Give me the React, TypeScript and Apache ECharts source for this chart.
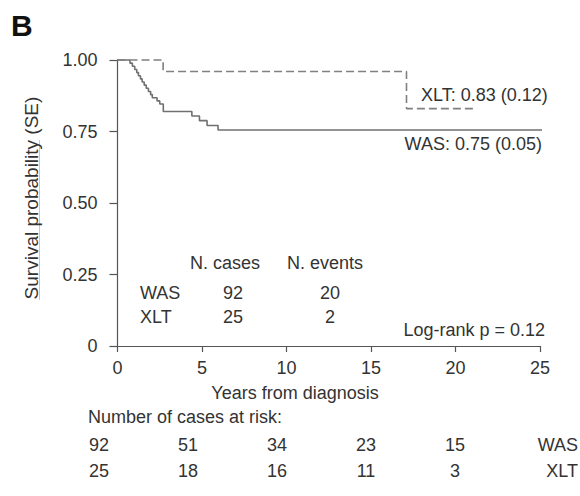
import React, { useEffect, useRef } from "react";
import * as echarts from "echarts";

// Kaplan-Meier step data (time in years, survival probability)
const wasTimes = [0, 0.74, 0.88, 1.02, 1.14, 1.24, 1.36, 1.46, 1.58, 1.7, 1.83, 1.96, 2.06, 2.34, 2.5, 2.71, 4.4, 4.85, 5.3, 5.95, 25.3];
const wasSurv = [1.0, 0.989, 0.978, 0.967, 0.956, 0.945, 0.934, 0.923, 0.912, 0.901, 0.89, 0.879, 0.868, 0.857, 0.846, 0.82, 0.804, 0.788, 0.771, 0.755, 0.755];
const xltTimes = [0, 2.7, 17.1, 21.25];
const xltSurv = [1.0, 0.96, 0.83, 0.83];

// Summary table
const groups = ["WAS", "XLT"];
const nCases = [92, 25];
const nEvents = [20, 2];
const finalLabels = ["WAS: 0.75 (0.05)", "XLT: 0.83 (0.12)"];
const logRank = "Log-rank p = 0.12";

// Number at risk
const atRiskWAS = [92, 51, 34, 23, 15];
const atRiskXLT = [25, 18, 16, 11, 3];

const yTicks = ["0", "0.25", "0.50", "0.75", "1.00"];

const FONT = '"Liberation Sans", Arial, Helvetica, sans-serif';
const TEXT = "#333";
const AXIS = "#555";

function txt(text: string, x: number, y: number, align: string, extra: any = {}) {
  return {
    type: "text",
    x,
    y,
    silent: true,
    style: {
      text,
      align,
      verticalAlign: "middle",
      fontSize: 18,
      fontFamily: FONT,
      fill: TEXT,
      ...extra,
    },
  };
}

export default function App() {
  const ref = useRef<HTMLDivElement>(null);

  useEffect(() => {
    if (!ref.current) return;
    const chart = echarts.init(ref.current, undefined, { renderer: "svg" });

    const graphics: any[] = [];
    graphics.push(txt("B", 11, 25, "left", { fontSize: 30, fontWeight: "bold", fill: "#111" }));
    graphics.push({
      type: "line",
      silent: true,
      shape: { x1: 39.5, y1: 140, x2: 39.5, y2: 300 },
      style: { stroke: "#f2b4b4", lineWidth: 1 },
    });
    graphics.push({
      type: "text",
      x: 31,
      y: 198,
      rotation: Math.PI / 2,
      silent: true,
      style: {
        text: "Survival probability (SE)",
        align: "center",
        verticalAlign: "middle",
        fontSize: 19,
        fontFamily: FONT,
        fill: TEXT,
      },
    });
    graphics.push(txt("Years from diagnosis", 295, 393, "center"));

    // final estimates
    graphics.push(txt(finalLabels[0], 542, 144, "right"));
    graphics.push(txt(finalLabels[1], 421, 95, "left"));

    // cases / events table
    graphics.push(txt("N. cases", 190, 263, "left"));
    graphics.push(txt("N. events", 287, 263, "left"));
    groups.forEach((g, i) => {
      const y = 293 + i * 23.5;
      graphics.push(txt(g, 140, y, "left"));
      graphics.push(txt(String(nCases[i]), 233, y, "center"));
      graphics.push(txt(String(nEvents[i]), 330, y, "center"));
    });
    graphics.push(txt(logRank, 545, 330, "right"));

    // number at risk
    graphics.push(txt("Number of cases at risk:", 88, 417, "left"));
    [atRiskWAS, atRiskXLT].forEach((row, r) => {
      const y = 445 + r * 25.5;
      row.forEach((v, i) => {
        graphics.push(txt(String(v), 99 + i * 89, y, "center"));
      });
      graphics.push(txt(groups[r], 578, y, "right"));
    });

    chart.setOption({
      animation: false,
      backgroundColor: "#fff",
      grid: { left: 117.5, right: 40, top: 60, bottom: 150, containLabel: false },
      xAxis: {
        type: "value",
        min: 0,
        max: 25,
        interval: 5,
        axisLine: { show: true, onZero: false, lineStyle: { color: AXIS, width: 1.2 } },
        axisTick: { show: true, length: 6, lineStyle: { color: AXIS, width: 1.2 } },
        axisLabel: { fontSize: 18, color: TEXT, fontFamily: FONT, margin: 13 },
        splitLine: { show: false },
      },
      yAxis: {
        type: "value",
        min: 0,
        max: 1,
        interval: 0.25,
        axisLine: { show: true, onZero: false, lineStyle: { color: AXIS, width: 1.2 } },
        axisTick: { show: true, length: 8, lineStyle: { color: AXIS, width: 1.2 } },
        axisLabel: {
          fontSize: 18,
          color: TEXT,
          fontFamily: FONT,
          margin: 20,
          formatter: (v: number) => yTicks[Math.round(v * 4)],
        },
        splitLine: { show: false },
      },
      series: [
        {
          name: "WAS",
          type: "line",
          step: "end",
          clip: false,
          symbol: "none",
          lineStyle: { color: "#707070", width: 1.6 },
          data: wasTimes.map((t, i) => [t, wasSurv[i]]),
        },
        {
          name: "XLT",
          type: "line",
          step: "end",
          clip: false,
          symbol: "none",
          lineStyle: { color: "#808080", width: 1.6, type: [8, 4] },
          data: xltTimes.map((t, i) => [t, xltSurv[i]]),
        },
      ],
      graphic: graphics,
    });

    return () => chart.dispose();
  }, []);

  return (
    <div
      ref={ref}
      style={{ position: "fixed", left: 0, top: 0, width: 580, height: 496, background: "#fff" }}
    />
  );
}
